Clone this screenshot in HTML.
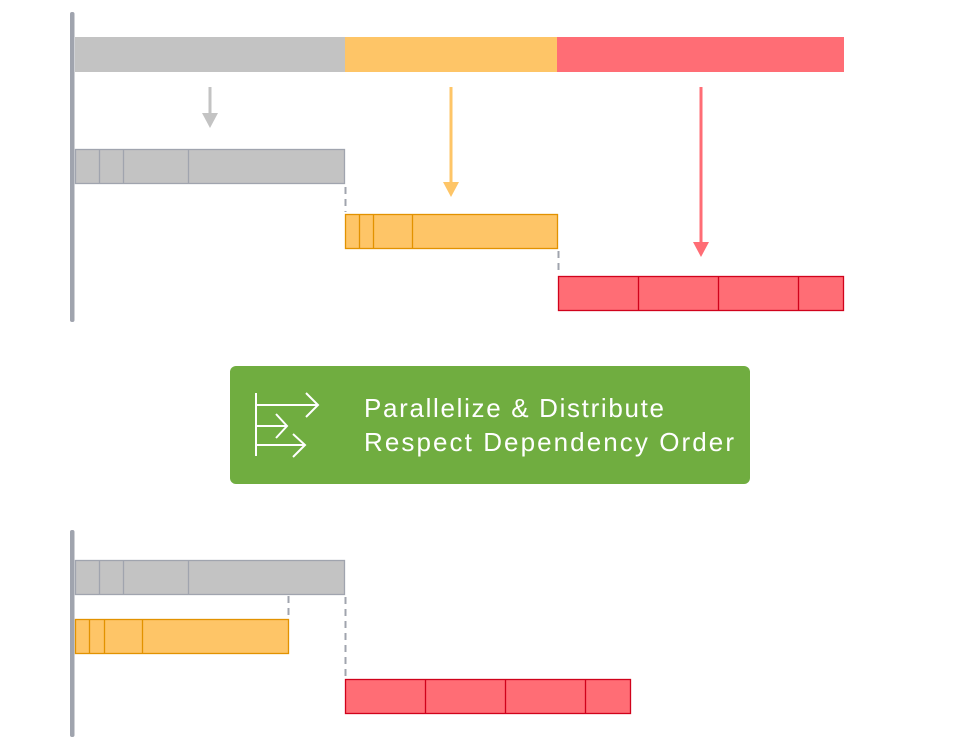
<!DOCTYPE html>
<html><head><style>body{margin:0;background:#fff}svg{display:block}</style></head>
<body>
<svg width="980" height="748" viewBox="0 0 980 748" xmlns="http://www.w3.org/2000/svg">
<rect x="70" y="12" width="4.5" height="310" rx="2" fill="#a0a4ae"/>
<rect x="70" y="530" width="4.5" height="207" rx="2" fill="#a0a4ae"/>
<rect x="75" y="37" width="270" height="35" fill="#c3c3c3"/>
<rect x="345" y="37" width="212" height="35" fill="#fec567"/>
<rect x="557" y="37" width="287" height="35" fill="#ff6d75"/>
<g stroke-width="3">
<line x1="210" y1="87" x2="210" y2="115" stroke="#c3c3c3"/>
<line x1="451" y1="87" x2="451" y2="186" stroke="#fec567"/>
<line x1="701" y1="87" x2="701" y2="246" stroke="#ff6d75"/>
</g>
<polygon points="202,113 218,113 210,128" fill="#c3c3c3"/>
<polygon points="443,182 459,182 451,197" fill="#fec567"/>
<polygon points="693,242 709,242 701,257" fill="#ff6d75"/>
<g stroke-width="1.3">
<rect x="75.5" y="149.5" width="269" height="34" fill="#c3c3c3" stroke="#a0a4ae"/>
<path d="M99.5 150v33M123.5 150v33M188.5 150v33" stroke="#a0a4ae"/>
<rect x="345.5" y="214.5" width="212" height="34" fill="#fec567" stroke="#e29200"/>
<path d="M359.5 215v33M373.5 215v33M412.5 215v33" stroke="#e29200"/>
<rect x="558.5" y="276.5" width="285" height="34" fill="#ff6d75" stroke="#d0021b"/>
<path d="M638.5 277v33M718.5 277v33M798.5 277v33" stroke="#d0021b"/>
<rect x="75.5" y="560.5" width="269" height="34" fill="#c3c3c3" stroke="#a0a4ae"/>
<path d="M99.5 561v33M123.5 561v33M188.5 561v33" stroke="#a0a4ae"/>
<rect x="75.5" y="619.5" width="213" height="34" fill="#fec567" stroke="#e29200"/>
<path d="M89.5 620v33M104.5 620v33M142.5 620v33" stroke="#e29200"/>
<rect x="345.5" y="679.5" width="285" height="34" fill="#ff6d75" stroke="#d0021b"/>
<path d="M425.5 680v33M505.5 680v33M585.5 680v33" stroke="#d0021b"/>
</g>
<g stroke="#a0a4ae" stroke-width="2" stroke-dasharray="7,5">
<line x1="345.5" y1="187" x2="345.5" y2="212"/>
<line x1="558.5" y1="251" x2="558.5" y2="274"/>
<line x1="288.5" y1="596" x2="288.5" y2="618"/>
<line x1="345.5" y1="597" x2="345.5" y2="677"/>
</g>
<rect x="230" y="366" width="520" height="118" rx="6" fill="#70ad40"/>
<g stroke="#fff" stroke-width="2" fill="none">
<line x1="256" y1="393" x2="256" y2="456"/>
<path d="M256 405H318M306 393L318 405L306 417"/>
<path d="M256 426H287M276 414L287 426L276 438"/>
<path d="M256 445H305M293 434L305 445L293 457"/>
</g>
<g fill="#fff" font-family="Liberation Sans, sans-serif" font-size="26">
<text x="364" y="417" textLength="300" lengthAdjust="spacing">Parallelize &amp; Distribute</text>
<text x="364" y="451" textLength="370" lengthAdjust="spacing">Respect Dependency Order</text>
</g>
</svg>
</body></html>
